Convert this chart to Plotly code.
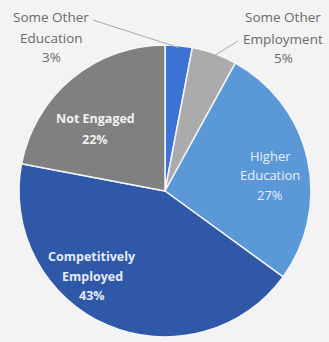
import math
import plotly.graph_objects as go

categories = ["Some Other Education", "Some Other Employment", "Higher Education",
              "Competitively Employed", "Not Engaged"]
values = [3, 5, 27, 43, 22]
label_lines = [["Some Other", "Education"], ["Some Other", "Employment"],
               ["Higher", "Education"], ["Competitively", "Employed"], ["Not Engaged"]]
colors = ["#3d74d4", "#ababab", "#5b98d8", "#2f58a8", "#808080"]

W, H = 329, 342
cx, cy, r = 165, 191, 146

# label layout: (x center, y of each line, bold, color, size, outside)
label_layout = [
    (51, [17, 38, 57], False, "#6a6a6a", 13.5, True),
    (283, [17, 39, 58], False, "#6a6a6a", 13.5, True),
    (270, [156, 175, 195], False, "#e9f0fa", 13, False),
    (92, [256, 276, 295], True, "#e6ecf8", 12.5, False),
    (95, [118, 139], True, "#f2f2f2", 12.5, False),
]
line_start = {0: (93, 20), 1: (238, 41)}

fig = go.Figure()
fig.add_trace(go.Pie(
    labels=categories, values=values, sort=False, direction="clockwise", rotation=0,
    textinfo="none",
    marker=dict(colors=colors, line=dict(color="#f4f6fa", width=1.5)),
    domain=dict(x=[(cx - r) / W, (cx + r) / W], y=[(H - cy - r) / H, (H - cy + r) / H]),
    showlegend=False, hoverinfo="label+percent",
))

total = sum(values)
cum = 0
for i, v in enumerate(values):
    mid = (cum + v / 2) / total * 2 * math.pi
    cum += v
    lx, ys, bold, col, size, outside = label_layout[i]
    lines = label_lines[i] + [f"{v}%"]
    for txt, ly in zip(lines, ys):
        fig.add_annotation(x=lx / W, y=1 - ly / H, xref="paper", yref="paper",
                           text=f"<b>{txt}</b>" if bold else txt, showarrow=False,
                           font=dict(family="Open Sans", size=size, color=col),
                           xanchor="center", yanchor="middle")
    if outside:
        ex = cx + r * math.sin(mid)
        ey = cy - r * math.cos(mid)
        sx, sy = line_start[i]
        fig.add_shape(type="line", xref="paper", yref="paper",
                      x0=sx / W, y0=1 - sy / H, x1=ex / W, y1=1 - (ey + 2) / H,
                      line=dict(color="#a8a8a8", width=1))

fig.update_layout(
    width=W, height=H, margin=dict(l=0, r=0, t=0, b=0),
    paper_bgcolor="#f3f3f3", plot_bgcolor="#f3f3f3",
)
fig.write_html("out.html")
